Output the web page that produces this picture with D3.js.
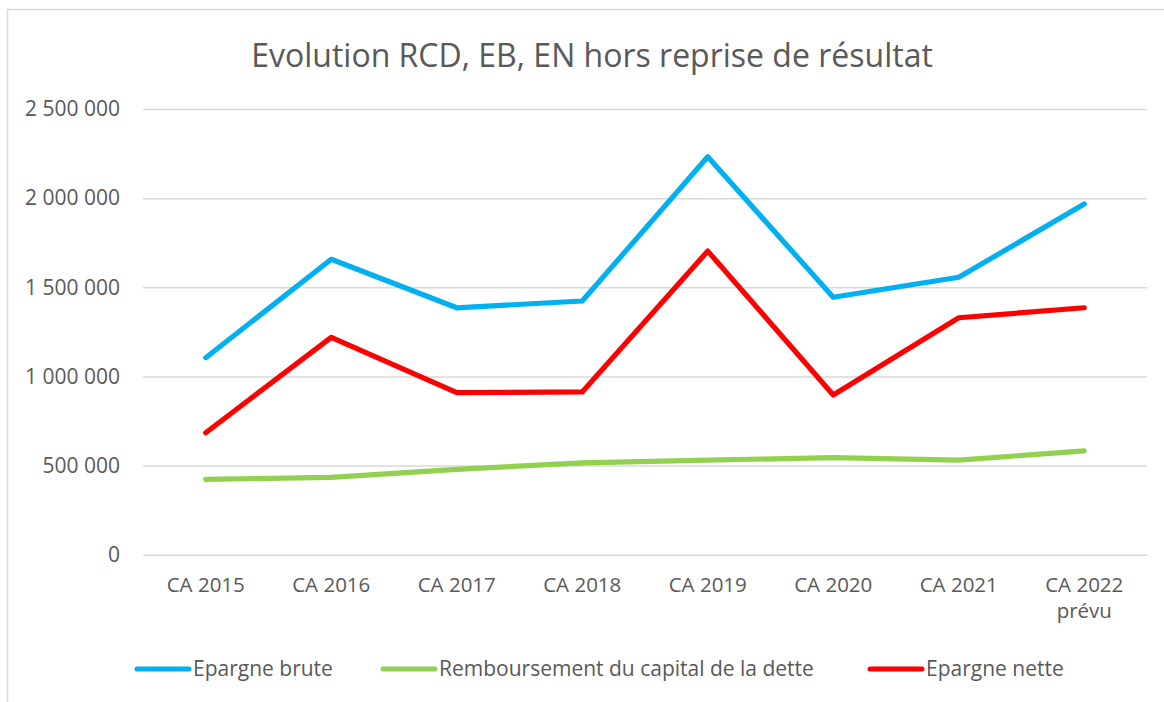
<!DOCTYPE html>
<html>
<head>
<meta charset="utf-8">
<script src="https://cdn.jsdelivr.net/npm/d3@7"></script>
<style>
  body { margin: 0; background: #fff; }
  svg text { font-family: "Open Sans", "Noto Sans", sans-serif; fill: #595959; }
</style>
</head>
<body>
<svg id="chart" width="1164" height="702"></svg>
<script>
"use strict";

// categories (x axis), "\n" splits a label onto two lines
var categories = ["CA 2015", "CA 2016", "CA 2017", "CA 2018", "CA 2019",
                  "CA 2020", "CA 2021", "CA 2022\nprévu"];

var epargneBrute = [1105000, 1657000, 1385000, 1423000, 2232000, 1444000, 1556000, 1967000];
var remboursement = [423000, 434000, 479000, 515000, 530000, 545000, 531000, 582000];
var epargneNette = [684000, 1219000, 909000, 913000, 1703000, 896000, 1329000, 1385000];

var yTicks = [0, 500000, 1000000, 1500000, 2000000, 2500000];

var seriesNames = ["Epargne brute", "Remboursement du capital de la dette", "Epargne nette"];
var seriesColors = ["#00B0F0", "#92D050", "#FF0000"];


var svg = d3.select("#chart"),
    plot = {left: 143, right: 1147, top: 109, bottom: 554.7},
    fmt = d3.formatLocale({decimal: ",", thousands: " ", grouping: [3], currency: ["", " €"]}).format(",d");

// chart frame
svg.append("rect")
    .attr("x", 7.5).attr("y", 9.5)
    .attr("width", 1170).attr("height", 710)
    .attr("fill", "none")
    .attr("stroke", "#d9d9d9")
    .attr("stroke-width", 1.5);

svg.append("text")
    .attr("x", 592).attr("y", 67)
    .attr("text-anchor", "middle")
    .attr("font-size", 32)
    .text("Evolution RCD, EB, EN hors reprise de résultat");

var x = d3.scalePoint()
    .domain(categories)
    .range([plot.left, plot.right])
    .padding(0.5);

var y = d3.scaleLinear()
    .domain([0, 2500000])
    .range([plot.bottom, plot.top]);

// y axis + gridlines
var yAxis = svg.append("g")
    .attr("transform", "translate(" + plot.left + ",0)")
    .call(d3.axisLeft(y)
        .tickValues(yTicks)
        .tickFormat(fmt)
        .tickSize(-(plot.right - plot.left))
        .tickPadding(23));
yAxis.select(".domain").remove();
yAxis.selectAll(".tick line")
    .attr("stroke", "#d9d9d9")
    .attr("stroke-width", 1.5);
yAxis.selectAll(".tick text")
    .attr("font-size", 21)
    .attr("fill", "#595959")
    .style("font-family", "'Open Sans', sans-serif");

// x labels, one text per line
var xg = svg.append("g");
categories.forEach(function (cat) {
    cat.split("\n").forEach(function (part, i) {
        xg.append("text")
            .attr("text-anchor", "middle")
            .attr("font-size", 20.5)
            .attr("x", x(cat))
            .attr("y", 592 + i * 26)
            .text(part);
    });
});

// series lines
var line = d3.line()
    .x(function (d, i) { return x(categories[i]); })
    .y(function (d) { return y(d); });

[epargneBrute, remboursement, epargneNette].forEach(function (vals, idx) {
    svg.append("path")
        .datum(vals)
        .attr("d", line)
        .attr("fill", "none")
        .attr("stroke", seriesColors[idx])
        .attr("stroke-width", 5.2)
        .attr("stroke-linejoin", "round")
        .attr("stroke-linecap", "round");
});

// legend
var legendX = [137, 383, 870],
    lg = svg.append("g");
seriesNames.forEach(function (name, i) {
    lg.append("line")
        .attr("x1", legendX[i]).attr("x2", legendX[i] + 52)
        .attr("y1", 669).attr("y2", 669)
        .attr("stroke", seriesColors[i])
        .attr("stroke-width", 5)
        .attr("stroke-linecap", "round");
    lg.append("text")
        .attr("x", legendX[i] + 56)
        .attr("y", 676)
        .attr("font-size", 21)
        .text(name);
});
</script>
</body>
</html>
